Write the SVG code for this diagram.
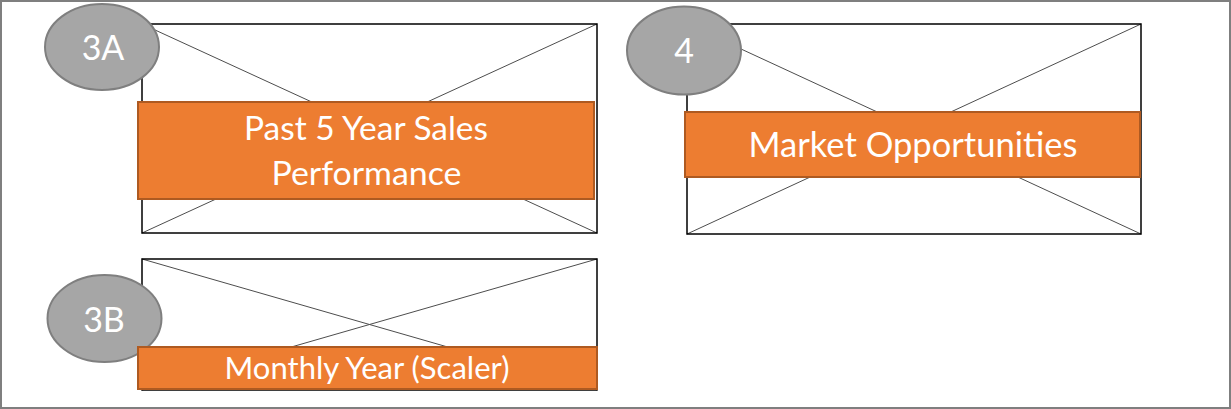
<svg xmlns="http://www.w3.org/2000/svg" width="1231" height="409" viewBox="0 0 1231 409">
  <style>
    .frame { fill: none; stroke: #000000; stroke-width: 1.5; }
    .diag { stroke: #4d4d4d; stroke-width: 1; fill: none; }
    .badge { fill: #a6a6a6; stroke: #7f7f7f; stroke-width: 2; }
    .badge-text { fill: #ffffff; font-family: Lato, "Open Sans", sans-serif; font-size: 34px; text-anchor: middle; }
    .banner { fill: #ed7d31; stroke: #ae5a21; stroke-width: 2; }
    .banner-text { fill: #ffffff; font-family: Lato, "Open Sans", sans-serif; text-anchor: middle; }
  </style>
  <rect x="0" y="0" width="1231" height="409" fill="#ffffff"/>
  <rect x="1" y="1" width="1229" height="407" fill="none" stroke="#7f7f7f" stroke-width="2"/>

  <g id="connectors">
    <line class="diag" x1="142" y1="24" x2="597" y2="233"/>
    <line class="diag" x1="597" y1="24" x2="142" y2="233"/>
    <line class="diag" x1="687" y1="24" x2="1141" y2="234"/>
    <line class="diag" x1="1141" y1="24" x2="687" y2="234"/>
    <line class="diag" x1="142" y1="259" x2="597" y2="390"/>
    <line class="diag" x1="597" y1="259" x2="142" y2="390"/>
  </g>

  <g id="node-3A">
    <rect class="frame" x="142" y="24" width="455" height="209"/>
    <ellipse class="badge" cx="102" cy="47" rx="57" ry="43"/>
    <text class="badge-text" x="103" y="60">3A</text>
    <rect class="banner" x="138" y="102" width="456" height="97"/>
    <text class="banner-text" x="366" y="140" font-size="33" textLength="244" lengthAdjust="spacingAndGlyphs">Past 5 Year Sales</text>
    <text class="banner-text" x="366.5" y="185" font-size="33" textLength="190" lengthAdjust="spacingAndGlyphs">Performance</text>
  </g>

  <g id="node-4">
    <rect class="frame" x="687" y="24" width="454" height="210"/>
    <ellipse class="badge" cx="684" cy="50.5" rx="57" ry="44"/>
    <text class="badge-text" x="684" y="63">4</text>
    <rect class="banner" x="685" y="112" width="455" height="65"/>
    <text class="banner-text" x="913" y="157" font-size="34" textLength="329" lengthAdjust="spacingAndGlyphs">Market Opportunities</text>
  </g>

  <g id="node-3B">
    <rect class="frame" x="142" y="259" width="455" height="131"/>
    <ellipse class="badge" cx="104.5" cy="318.5" rx="57" ry="43.5"/>
    <text class="badge-text" x="104" y="331.5">3B</text>
    <rect class="banner" x="138" y="347" width="459" height="42"/>
    <text class="banner-text" x="367" y="379" font-size="30" textLength="285" lengthAdjust="spacingAndGlyphs">Monthly Year (Scaler)</text>
  </g>
</svg>
